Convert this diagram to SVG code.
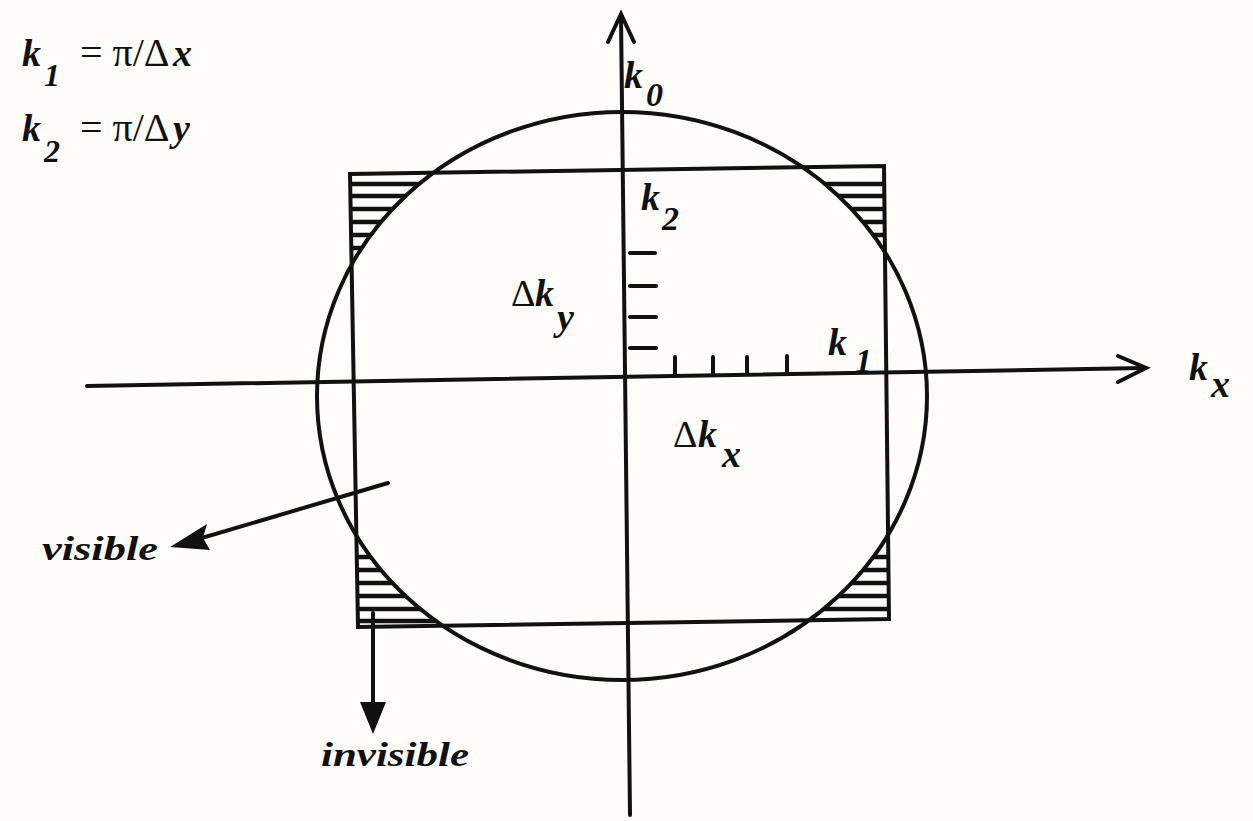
<svg xmlns="http://www.w3.org/2000/svg" width="1253" height="821" viewBox="0 0 1253 821">
<style>
.ln{stroke:#111;stroke-width:4;fill:none;stroke-linecap:round}
.hat{stroke:#111;stroke-width:4.5}
.t{font-family:"Liberation Serif",serif;font-weight:bold;font-style:italic;fill:#111;font-size:38px}
.s{font-size:34px}
.r{font-family:"Liberation Serif",serif;font-style:normal;font-weight:normal;fill:#111}
.w{font-size:34px}
</style>
<defs>
<mask id="m">
<rect x="0" y="0" width="1253" height="821" fill="#fff"/>
<ellipse cx="622" cy="396" rx="305" ry="284" fill="#000"/>
</mask>
<clipPath id="rc"><polygon points="350,174 884,166 889,619 358,627"/></clipPath>
</defs>
<rect width="1253" height="821" fill="#fefdf9"/>
<g id="hatching" clip-path="url(#rc)"><g mask="url(#m)">
<path class="hat" d="M340,184H900M340,196H900M340,209H900M340,222H900M340,235H900M340,248H900M340,557H900M340,570H900M340,583H900M340,596H900M340,609H900M340,621H900"/>
</g></g>
<g id="circle"><ellipse class="ln" cx="622" cy="396" rx="305" ry="284"/></g>
<g id="rectangle"><polygon class="ln" points="350,174 884,166 889,619 358,627"/></g>
<g id="axes">
<line class="ln" x1="621" y1="16" x2="630" y2="815"/>
<polyline class="ln" points="608,42 621,14 634,42"/>
<line class="ln" x1="87" y1="386" x2="1144" y2="368"/>
<polyline class="ln" points="1118,356 1146,368 1118,382"/>
</g>
<g id="ticks">
<path class="ln" d="M630,253H655M630,286H656M630,317H656M630,348H656M675,374V357M713,374V357M747,373V357M787,372V356"/>
</g>
<g id="connectors">
<line class="ln" x1="388" y1="483" x2="195" y2="540"/>
<polygon points="170,547 207,524 203,538 210,550" fill="#111"/>
<line class="ln" x1="373" y1="613" x2="373" y2="710"/>
<polygon points="360,702 386,702 373,734" fill="#111"/>
</g>
<g id="labels">
<text class="t" font-size="36"><tspan x="22" y="66">k</tspan><tspan x="44" y="86" font-size="32">1</tspan><tspan class="r" x="80" y="66" font-size="40">= π/Δ</tspan><tspan x="173" y="66">x</tspan></text>
<text class="t" font-size="36"><tspan x="22" y="141">k</tspan><tspan x="44" y="162" font-size="32">2</tspan><tspan class="r" x="80" y="141" font-size="40">= π/Δ</tspan><tspan x="173" y="141">y</tspan></text>
<text class="t"><tspan x="624" y="88">k</tspan><tspan class="s" x="646" y="106">0</tspan></text>
<text class="t" font-size="34"><tspan x="641" y="210">k</tspan><tspan class="s" x="662" y="230">2</tspan></text>
<text class="t"><tspan class="r" x="511" y="306">Δ</tspan><tspan x="535" y="306">k</tspan><tspan x="557" y="330">y</tspan></text>
<text class="t"><tspan x="828" y="355">k</tspan><tspan class="s" x="855" y="372">1</tspan></text>
<text class="t"><tspan x="1189" y="380">k</tspan><tspan x="1211" y="397">x</tspan></text>
<text class="t"><tspan class="r" x="673" y="447">Δ</tspan><tspan x="698" y="447">k</tspan><tspan x="722" y="467">x</tspan></text>
<text class="t w" x="42" y="560" textLength="116" lengthAdjust="spacingAndGlyphs">visible</text>
<text class="t w" x="321" y="766" textLength="148" lengthAdjust="spacingAndGlyphs">invisible</text>
</g>
</svg>
